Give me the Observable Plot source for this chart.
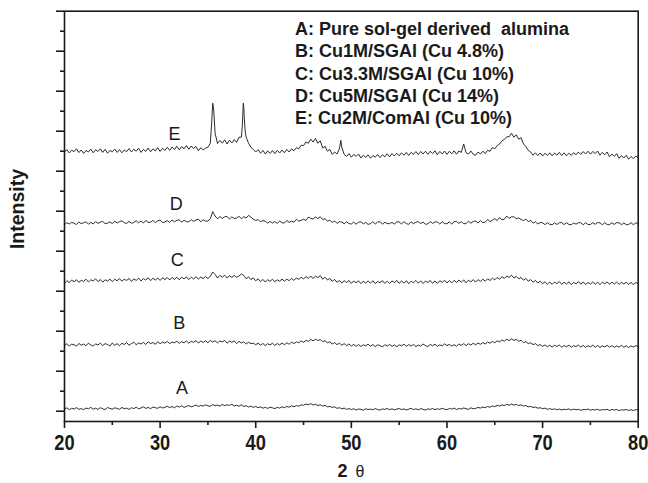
<!DOCTYPE html>
<html><head><meta charset="utf-8">
<script src="https://cdn.jsdelivr.net/npm/d3@7"></script>
<script src="https://cdn.jsdelivr.net/npm/@observablehq/plot@0.6"></script>
<style>
body{margin:0;background:#fff}
#chart{width:648px;height:483px}
</style>
</head><body><div id="chart"></div>
<script>
// 2θ grid (degrees, 0.25° step) shared by all traces
const twoTheta = d3.range(0, 241).map(i => 20 + i * 0.25);

// Intensities (a.u., stacked offsets)
const traceA = [
58,85,40,72, 55,90,48,66, 38,80,62,95, 50,74,45,88, 60,42,92,68,
52,85,70,48, 96,60,78,45, 88,66,100,58, 82,110,70,95, 64,105,88,72,
112,80,98,125, 90,118,85,130, 102,138,95,120, 142,108,130,155, 118,146,128,160,
135,122,165,140, 152,128,170,138, 160,145,175,132, 150,125,158,118, 140,105,128,96,
118,90,108,75, 98,70,102,84, 66,95,78,110, 88,120,98,135, 112,140,125,158,
150,180,162,188, 155,175,140,160, 128,145,112,118, 95,110,72,88, 60,78,45,68,
40,62,30,55, 48,25,62,40, 55,35,68,42, 28,58,45,70, 38,60,32,55,
66,42,58,30, 52,72,40,60, 35,65,48,28, 58,44,70,38, 62,45,75,50,
40,68,52,78, 45,66,55,82, 60,48,85,62, 70,95,78,105, 90,118,100,132,
115,145,128,158, 140,170,150,178, 155,168,140,160, 128,142,110,122, 92,105,75,88,
62,78,48,65, 42,60,35,55, 30,50,40,58, 28,52,35,48, 22,45,38,55,
25,42,30,50, 20,40,35,48, 18,42,30,45, 15,38,28,44, 20,36,18,40,
30];
const traceB = [
1640,1690,1630,1675, 1662,1625,1695,1650, 1680,1638,1700,1660, 1625,1685,1655,1702, 1640,1690,1668,1630,
1705,1650,1688,1640, 1698,1668,1715,1650, 1692,1725,1660,1705, 1680,1720,1668,1735, 1690,1718,1672,1740,
1685,1730,1700,1745, 1688,1728,1710,1750, 1695,1740,1712,1758, 1700,1748,1722,1765, 1705,1755,1718,1760,
1712,1768,1730,1762, 1708,1755,1735,1770, 1700,1752,1722,1758, 1690,1745,1705,1738, 1680,1725,1690,1700,
1660,1705,1648,1695, 1640,1688,1660,1700, 1645,1692,1655,1705, 1662,1710,1675,1728, 1690,1735,1712,1758,
1725,1770,1745,1795, 1760,1800,1768,1790, 1740,1762,1712,1735, 1680,1715,1665,1700, 1650,1690,1640,1682,
1630,1672,1620,1665, 1618,1660,1635,1675, 1625,1668,1615,1660, 1640,1605,1665,1628, 1670,1622,1658,1612,
1660,1635,1678,1620, 1665,1630,1672,1615, 1655,1625,1680,1640, 1618,1668,1638,1675, 1622,1660,1630,1685,
1640,1672,1628,1665, 1625,1680,1645,1690, 1640,1688,1655,1700, 1660,1705,1672,1718, 1680,1728,1700,1745,
1712,1760,1735,1782, 1750,1800,1765,1812, 1770,1795,1748,1775, 1715,1740,1690,1712, 1665,1690,1640,1665,
1620,1658,1610,1650, 1605,1648,1618,1655, 1600,1642,1612,1650, 1598,1640,1615,1652, 1605,1645,1595,1638,
1610,1650,1600,1642, 1592,1635,1608,1648, 1600,1640,1595,1632, 1605,1645,1598,1638, 1590,1632,1605,1640,
1615];
const traceC = [
3200,3265,3215,3280, 3235,3290,3222,3270, 3245,3300,3230,3285, 3255,3310,3240,3292, 3225,3288,3250,3305,
3240,3300,3262,3315, 3248,3302,3268,3320, 3245,3310,3270,3325, 3255,3318,3282,3335, 3262,3325,3278,3330,
3270,3335,3290,3342, 3280,3345,3295,3350, 3285,3348,3310,3358, 3290,3352,3305,3360, 3300,3355,3315,3368,
3320,3370,3480,3420, 3330,3395,3350,3400, 3330,3385,3345,3392, 3350,3380,3430,3395, 3310,3360,3290,3330,
3260,3310,3240,3295, 3228,3290,3245,3300, 3235,3285,3250,3305, 3248,3302,3265,3320, 3270,3330,3295,3350,
3305,3365,3320,3380, 3315,3378,3340,3390, 3300,3350,3280,3320, 3245,3295,3222,3270, 3205,3262,3218,3268,
3195,3255,3210,3260, 3190,3250,3205,3258, 3200,3262,3188,3245, 3210,3265,3195,3250, 3192,3258,3212,3270,
3198,3255,3205,3262, 3185,3250,3210,3268, 3200,3260,3195,3255, 3215,3270,3200,3258, 3195,3262,3220,3275,
3205,3265,3210,3272, 3218,3280,3225,3285, 3210,3275,3235,3290, 3228,3292,3245,3300, 3250,3310,3268,3325,
3285,3345,3300,3362, 3320,3380,3345,3400, 3330,3370,3310,3345, 3275,3320,3250,3290, 3225,3270,3205,3250,
3185,3235,3175,3228, 3170,3230,3188,3240, 3172,3225,3180,3235, 3165,3222,3185,3238, 3175,3230,3168,3220,
3180,3235,3172,3228, 3165,3225,3185,3232, 3170,3228,3178,3230, 3168,3222,3180,3225, 3172,3220,3165,3215,
3195];
const traceD = [
4665,4715,4680,4722, 4700,4668,4730,4688, 4712,4735,4675,4722, 4680,4740,4695,4728, 4745,4688,4700,4735,
4690,4752,4705,4740, 4758,4712,4695,4745, 4700,4718,4762,4708, 4755,4705,4768,4720, 4725,4772,4712,4760,
4778,4718,4730,4765, 4720,4782,4738,4770, 4785,4725,4775,4740, 4730,4790,4745,4780, 4800,4735,4785,4750,
4755,4810,4990,4880, 4810,4865,4820,4860, 4870,4805,4858,4818, 4825,4875,4810,4862, 4830,4895,4850,4800,
4770,4790,4735,4765, 4750,4700,4745,4705, 4742,4695,4758,4710, 4705,4768,4720,4752, 4725,4800,4750,4775,
4795,4770,4850,4825, 4805,4858,4815,4860, 4790,4815,4750,4775, 4720,4755,4695,4738, 4730,4685,4735,4690,
4680,4728,4675,4725, 4735,4685,4720,4670, 4690,4738,4680,4730, 4740,4675,4725,4692, 4688,4722,4678,4735,
4730,4680,4738,4690, 4672,4735,4688,4725, 4740,4690,4728,4675, 4682,4742,4695,4732, 4730,4678,4740,4690,
4688,4732,4680,4738, 4742,4695,4740,4688, 4690,4750,4700,4745, 4755,4705,4765,4715, 4725,4795,4740,4775,
4815,4765,4840,4785, 4800,4880,4820,4860, 4860,4815,4830,4795, 4765,4805,4740,4770, 4700,4735,4680,4720,
4710,4665,4715,4672, 4660,4708,4668,4712, 4718,4665,4712,4670, 4662,4705,4675,4715, 4710,4660,4712,4668,
4665,4715,4672,4718, 4708,4660,4714,4670, 4662,4712,4668,4715, 4710,4665,4705,4660, 4668,4712,4662,4710,
4685];
const traceE = [
6470,6540,6455,6525, 6490,6560,6465,6530, 6445,6520,6480,6555, 6460,6535,6495,6560, 6470,6545,6450,6520,
6485,6555,6470,6540, 6460,6530,6490,6565, 6480,6550,6500,6575, 6470,6545,6495,6580, 6485,6560,6505,6590,
6495,6575,6520,6600, 6520,6605,6545,6625, 6535,6615,6560,6640, 6550,6630,6565,6620, 6510,6590,6530,6575,
6600,6700,7700,6950, 6690,6770,6700,6785, 6680,6775,6705,6790, 6720,6850,6850,7600, 6850,6700,6600,6545,
6480,6540,6450,6520, 6430,6510,6445,6515, 6440,6520,6455,6530, 6460,6545,6480,6560, 6510,6590,6560,6650,
6640,6730,6700,6800, 6730,6820,6700,6760, 6580,6620,6500,6545, 6420,6480,6430,6560, 6600,6420,6370,6440,
6350,6420,6370,6430, 6330,6400,6345,6410, 6325,6395,6350,6420, 6340,6410,6360,6435, 6360,6440,6380,6450,
6385,6460,6400,6470, 6395,6470,6420,6490, 6415,6495,6430,6500, 6420,6500,6440,6510, 6410,6495,6430,6505,
6420,6500,6435,6510, 6425,6505,6470,6680, 6460,6430,6505,6420, 6400,6480,6430,6500, 6440,6520,6500,6590,
6560,6640,6680,6760, 6790,6860,6860,6950, 6850,6910,6800,6840, 6680,6620,6520,6480, 6400,6460,6390,6455,
6380,6450,6395,6460, 6385,6455,6400,6470, 6390,6460,6385,6450, 6395,6465,6410,6480, 6420,6490,6430,6500,
6425,6495,6440,6505, 6400,6470,6410,6480, 6360,6430,6370,6440, 6320,6390,6330,6400, 6300,6370,6315,6380,
6330];
// extra points on the sharp peaks of trace E
const eSpikeTheta = [35.4,35.6,38.6,38.7,38.8,38.9,48.9];
const eSpikeValue = [7250,7550,7150,7700,7350,7000,6770];

const sampleIds = ["A","B","C","D","E"];
const labelTheta = [32.3,32.0,31.8,31.7,31.5];
const labelLevel = [568,2205,3768,5185,6935];

const legendLines = [
  "A: Pure sol-gel derived \u00a0alumina",
  "B: Cu1M/SGAl (Cu 4.8%)",
  "C: Cu3.3M/SGAl (Cu 10%)",
  "D: Cu5M/SGAl (Cu 14%)",
  "E: Cu2M/ComAl (Cu 10%)"
];

const xMajorTicks = [20,30,40,50,60,70,80];
const xMinorTicks = [25,35,45,55,65,75];
const yMajorTicks = [0,1000,2000,3000,4000,5000,6000,7000,8000,9000,10000];
const yMinorTicks = [500,1500,2500,3500,4500,5500,6500,7500,8500,9500];
const yDomain = [-257, 10000];

const traces = [traceA, traceB, traceC, traceD, traceE];
let rows = [];
traces.forEach((arr, k) => {
  let r = twoTheta.map((t, i) => ({sample: sampleIds[k], theta: t, value: arr[i]}));
  if (k === 4) {
    r = r.concat(eSpikeTheta.map((t, i) => ({sample: "E", theta: t, value: eSpikeValue[i]})));
    r.sort((a, b) => a.theta - b.theta);
  }
  rows = rows.concat(r);
});

const font = "'Liberation Sans', Arial, Helvetica, sans-serif";

const chart = Plot.plot({
  width: 648,
  height: 483,
  marginLeft: 64,
  marginRight: 10.3,
  marginTop: 10.7,
  marginBottom: 62,
  style: {fontFamily: font, background: "#fff", color: "#1a1a1a"},
  x: {domain: [20, 80]},
  y: {domain: yDomain},
  marks: [
    Plot.line(rows, {x: "theta", y: "value", z: "sample", stroke: "#222", strokeWidth: 0.95}),
    Plot.text(sampleIds, {x: (d, i) => labelTheta[i], y: (d, i) => labelLevel[i], text: d => d, fontSize: 18, fill: "#1a1a1a"}),
    Plot.axisX(xMajorTicks, {tickSize: 7, tickPadding: 6, fontSize: 21.5, fontWeight: "bold", label: null, strokeWidth: 1.6}),
    Plot.axisX(xMinorTicks, {tickSize: 4, tickFormat: () => "", label: null, strokeWidth: 1.6}),
    Plot.axisY(yMajorTicks, {tickSize: 8, tickFormat: () => "", label: null, strokeWidth: 1.6}),
    Plot.axisY(yMinorTicks, {tickSize: 4, tickFormat: () => "", label: null, strokeWidth: 1.6}),
    Plot.frame({stroke: "#1a1a1a", strokeWidth: 1.6})
  ]
});

const svg = d3.select(chart);
// condense the bold tick numerals a little, as in the reference
svg.selectAll('g[aria-label="x-axis tick label"] text').each(function() {
  const t = this.getAttribute("transform") || "";
  this.setAttribute("transform", t + " scale(0.85,1)");
});
// legend
const leg = svg.append("g").attr("font-family", font).attr("font-size", 18).attr("font-weight", "bold")
  .attr("fill", "#1a1a1a").attr("text-anchor", "start");
legendLines.forEach((t, i) => {
  leg.append("text").attr("x", 295).attr("y", 35 + 22.3 * i).text(t);
});
// y axis title
svg.append("text")
  .attr("transform", "translate(24,209) rotate(-90)")
  .attr("text-anchor", "middle")
  .attr("font-family", font).attr("font-size", 19.5).attr("font-weight", "bold").attr("fill", "#1a1a1a")
  .text("Intensity");
// x axis title
const xt = svg.append("text")
  .attr("x", 351).attr("y", 477)
  .attr("text-anchor", "middle")
  .attr("font-family", font).attr("font-size", 18).attr("fill", "#1a1a1a");
xt.append("tspan").attr("font-weight", "bold").text("2");
xt.append("tspan").attr("dx", 8).attr("font-size", 16).text("θ");

document.getElementById("chart").appendChild(chart);
</script>
</body></html>
